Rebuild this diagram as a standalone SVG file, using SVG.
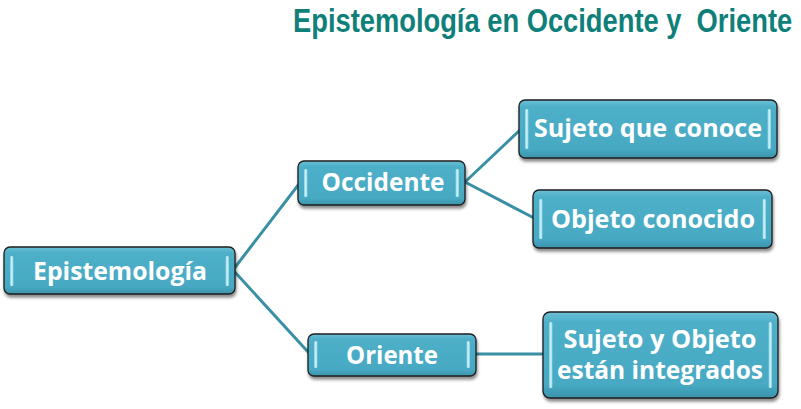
<svg xmlns="http://www.w3.org/2000/svg" width="801" height="409" viewBox="0 0 801 409">
  <defs>
    <linearGradient id="boxFill" x1="0" y1="0" x2="0" y2="1">
      <stop offset="0" stop-color="#6cc0d6"/>
      <stop offset="0.12" stop-color="#4eafc8"/>
      <stop offset="0.85" stop-color="#47a9c3"/>
      <stop offset="1" stop-color="#3b93ab"/>
    </linearGradient>
    <linearGradient id="bevel" x1="0" y1="0" x2="1" y2="0">
      <stop offset="0" stop-color="#7fcde0"/>
      <stop offset="0.5" stop-color="#d6f4fa"/>
      <stop offset="1" stop-color="#7fcde0"/>
    </linearGradient>
    <filter id="shadow" x="-10%" y="-20%" width="120%" height="150%">
      <feDropShadow dx="1" dy="3" stdDeviation="1.6" flood-color="#000" flood-opacity="0.45"/>
    </filter>
  </defs>
  <style>
    .box { fill: url(#boxFill); stroke: #1e1e1e; stroke-width: 1.3; filter: url(#shadow); }
    .bv { fill: url(#bevel); }
    .lbl { font-family: "Open Sans", "Liberation Sans", sans-serif; font-weight: bold; font-size: 25px; fill: #ffffff; text-anchor: middle; }
    .title { font-family: "Liberation Sans", Arial, sans-serif; font-weight: bold; font-size: 34px; fill: #0e8079; }
    .conn { stroke: #3a8fa5; stroke-width: 3; fill: none; stroke-linecap: round; }
  </style>

  <text class="title" transform="translate(293,32) scale(0.78,1)" x="0" y="0" textLength="640" lengthAdjust="spacingAndGlyphs" xml:space="preserve">Epistemología en Occidente y  Oriente</text>

  <g id="connectors">
    <line class="conn" x1="233" y1="270" x2="299" y2="184"/>
    <line class="conn" x1="233" y1="270" x2="309" y2="353"/>
    <line class="conn" x1="465" y1="182" x2="520" y2="130"/>
    <line class="conn" x1="465" y1="182" x2="534" y2="218"/>
    <line class="conn" x1="475" y1="354" x2="543" y2="354"/>
  </g>

  <g id="epistemologia">
    <rect class="box" x="4" y="247" width="231" height="47" rx="6"/>
    <rect class="bv" x="10" y="256" width="3.5" height="30" rx="1.5"/>
    <rect class="bv" x="225.5" y="256" width="3.5" height="30" rx="1.5"/>
    <text class="lbl" x="120" y="280" textLength="174" lengthAdjust="spacingAndGlyphs">Epistemología</text>
  </g>

  <g id="occidente">
    <rect class="box" x="298" y="161" width="167" height="44" rx="6"/>
    <rect class="bv" x="304" y="169" width="3.5" height="28" rx="1.5"/>
    <rect class="bv" x="455.5" y="169" width="3.5" height="28" rx="1.5"/>
    <text class="lbl" x="383" y="191" textLength="123" lengthAdjust="spacingAndGlyphs">Occidente</text>
  </g>

  <g id="oriente">
    <rect class="box" x="308" y="334" width="168" height="42" rx="6"/>
    <rect class="bv" x="314" y="341" width="3.5" height="27" rx="1.5"/>
    <rect class="bv" x="466.5" y="341" width="3.5" height="27" rx="1.5"/>
    <text class="lbl" x="392" y="364" textLength="92" lengthAdjust="spacingAndGlyphs">Oriente</text>
  </g>

  <g id="sujeto">
    <rect class="box" x="519" y="100" width="258" height="58" rx="6"/>
    <rect class="bv" x="525" y="109" width="3.5" height="40" rx="1.5"/>
    <rect class="bv" x="767.5" y="109" width="3.5" height="40" rx="1.5"/>
    <text class="lbl" x="648" y="137" textLength="228" lengthAdjust="spacingAndGlyphs">Sujeto que conoce</text>
  </g>

  <g id="objeto">
    <rect class="box" x="533" y="190" width="239" height="58" rx="6"/>
    <rect class="bv" x="539" y="199" width="3.5" height="40" rx="1.5"/>
    <rect class="bv" x="762.5" y="199" width="3.5" height="40" rx="1.5"/>
    <text class="lbl" x="653" y="228" textLength="204" lengthAdjust="spacingAndGlyphs">Objeto conocido</text>
  </g>

  <g id="integrados">
    <rect class="box" x="543" y="312" width="235" height="86" rx="7"/>
    <rect class="bv" x="549" y="322" width="3.5" height="66" rx="1.5"/>
    <rect class="bv" x="768.5" y="322" width="3.5" height="66" rx="1.5"/>
    <text class="lbl" x="660" y="348" textLength="193" lengthAdjust="spacingAndGlyphs">Sujeto y Objeto</text>
    <text class="lbl" x="660" y="379" textLength="206" lengthAdjust="spacingAndGlyphs">están integrados</text>
  </g>
</svg>
